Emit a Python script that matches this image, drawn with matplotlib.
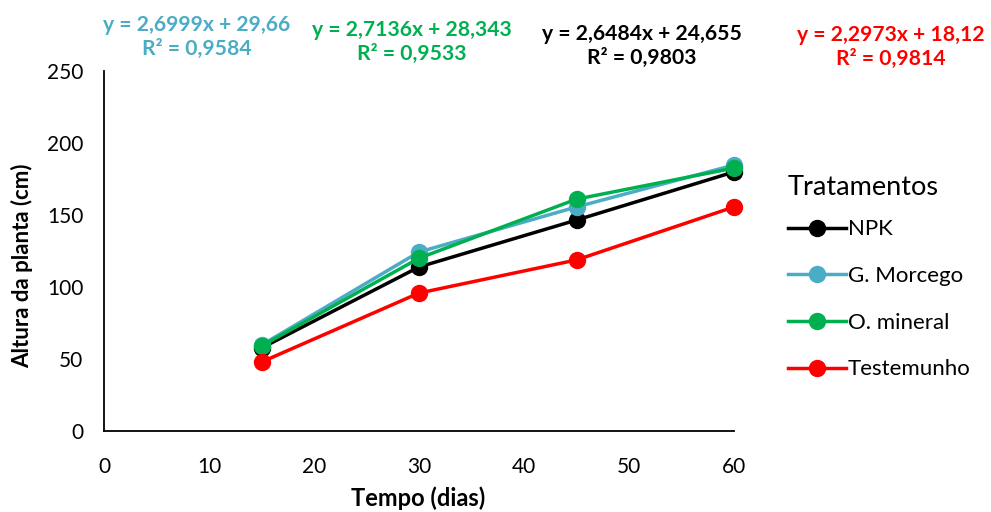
import matplotlib
matplotlib.use("Agg")
import matplotlib.pyplot as plt
from matplotlib.lines import Line2D

plt.rcParams['font.family'] = ['Lato', 'DejaVu Sans']

dias = [15, 30, 45, 60]
npk = [57.6, 113.9, 146.5, 179.9]
morcego = [59.7, 124.3, 155.6, 184.7]
mineral = [59.0, 120.0, 161.0, 182.6]
testemunho = [47.9, 95.8, 118.8, 155.6]

series_names = ["NPK", "G. Morcego", "O. mineral", "Testemunho"]
colors = ["#000000", "#4BACC6", "#00B050", "#FF0000"]
equations = ["y = 2,6484x + 24,655\nR² = 0,9803",
             "y = 2,6999x + 29,66\nR² = 0,9584",
             "y = 2,7136x + 28,343\nR² = 0,9533",
             "y = 2,2973x + 18,12\nR² = 0,9814"]

fig = plt.figure(figsize=(9.91, 5.12), dpi=100)
ax = fig.add_axes([104/991, 1-431/512, (734-104)/991, (431-71)/512])

for vals, c in zip([npk, morcego, mineral, testemunho], colors):
    ax.plot(dias, vals, color=c, lw=2.5, marker='o', markersize=11.5, clip_on=False)

ax.set_xlim(0, 60)
ax.set_ylim(0, 250)
ax.set_xticks(range(0, 61, 10))
ax.set_yticks(range(0, 251, 50))
ax.tick_params(length=0, labelsize=15)
ax.tick_params(axis='x', pad=19)
ax.tick_params(axis='y', pad=15)
for s in ['top', 'right']:
    ax.spines[s].set_visible(False)
for s in ['left', 'bottom']:
    ax.spines[s].set_linewidth(1.3)
    ax.spines[s].set_color('black')

fig.text(418/991, 1-498/512, "Tempo (dias)", ha='center', va='center', fontsize=17, fontweight='bold')
fig.text(22/991, 1-266/512, "Altura da planta (cm)", ha='center', va='center', rotation=90, fontsize=16, fontweight='bold')

# equations
eq_pos = [(642, 46, colors[0], equations[0]),
          (197, 37, colors[1], equations[1]),
          (412, 42, colors[2], equations[2]),
          (891, 47, colors[3], equations[3])]
for x, y, c, t in eq_pos:
    fig.text(x/991, 1-y/512, t, ha='center', va='center', fontsize=15.2, fontweight='bold',
             color=c, linespacing=1.3)

handles = [Line2D([0], [0], color=c, lw=2.5, marker='o', markersize=11.5) for c in colors]
leg = fig.legend(handles, series_names, loc='upper left', bbox_to_anchor=(768/991, 1-155/512),
                 frameon=False, fontsize=16, title="Tratamentos", title_fontsize=19.5,
                 handlelength=2.6, labelspacing=1.2, handletextpad=0.1, alignment='left')
leg._legend_box.sep = 14

fig.savefig("out.png", dpi=100)
